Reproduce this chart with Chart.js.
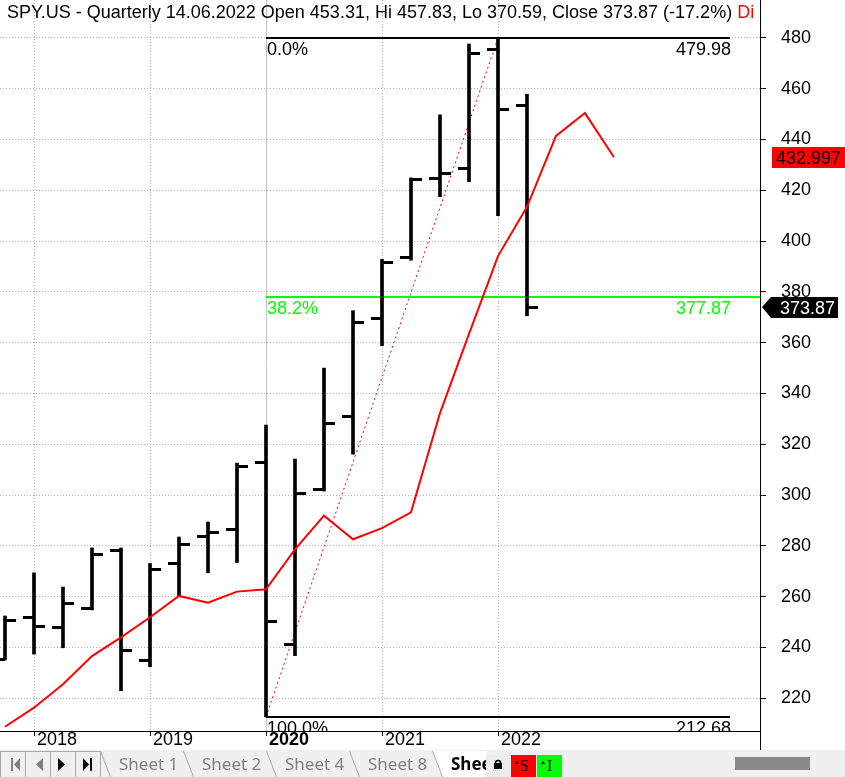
<!DOCTYPE html>
<html>
<head>
<meta charset="utf-8">
<script src="https://cdn.jsdelivr.net/npm/chart.js@4"></script>
<style>
  html, body { margin: 0; padding: 0; background: #fff; }
  canvas { display: block; }
</style>
</head>
<body>
<canvas id="chart" width="845" height="750"></canvas>
<canvas id="tabs" width="845" height="27"></canvas>
<script>
// quarterly bars, Q4 2017 .. Q2 2022
const quarters = ['Q4 2017', 'Q1 2018', 'Q2 2018', 'Q3 2018', 'Q4 2018', 'Q1 2019', 'Q2 2019', 'Q3 2019', 'Q4 2019',
  'Q1 2020', 'Q2 2020', 'Q3 2020', 'Q4 2020', 'Q1 2021', 'Q2 2021', 'Q3 2021', 'Q4 2021', 'Q1 2022', 'Q2 2022'];
const opens  = [235.4, 251.7, 247.7, 255.5, 278.0, 234.8, 272.9, 283.9, 286.4, 312.8, 241.0, 302.1, 330.9, 369.4, 393.5, 424.8, 428.4, 475.5, 453.31];
const highs  = [252.4, 269.4, 263.8, 279.2, 279.2, 273.1, 283.5, 289.4, 312.6, 327.6, 314.2, 350.0, 372.6, 392.8, 424.9, 449.7, 477.6, 479.98, 457.83];
const lows   = [235.1, 237.4, 239.9, 254.8, 223.0, 232.4, 260.4, 269.4, 273.4, 212.68, 236.8, 301.6, 316.1, 358.8, 392.5, 417.5, 423.4, 410.0, 370.59];
const closes = [250.8, 248.1, 257.2, 276.8, 238.7, 270.9, 280.4, 285.1, 311.1, 250.4, 300.8, 328.1, 367.9, 391.4, 424.1, 426.5, 473.8, 451.64, 373.87];

// displaced moving average (runs 3 quarters past the last bar)
const maValues = [208.8, 216.3, 225.5, 236.6, 244.0, 251.9, 260.3, 257.6, 262.0, 262.9, 278.6, 291.9, 282.6, 287.0,
  293.2, 332.3, 363.5, 394.1, 413.5, 441.4, 450.4, 432.997];

const yearTicks  = [1, 5, 9, 13, 17];
const yearLabels = ['2018', '2019', '2020', '2021', '2022'];
const priceTicks = [220, 240, 260, 280, 300, 320, 340, 360, 380, 400, 420, 440, 460, 480];

// fibonacci retracement: from the Q1 2020 low to the Q1 2022 high
const fibLow = 212.68, fibHigh = 479.98;
const fibFrom = 9, fibTo = 17, fibEnd = 25;
const fibLevels = [0, 0.382, 1];

const FONT = "'Liberation Sans', Arial, sans-serif";
const last = quarters.length - 1;

function tickImage(side) {
  const c = document.createElement('canvas');
  c.width = 22; c.height = 3;
  const g = c.getContext('2d');
  g.fillStyle = '#000';
  g.fillRect(side === 'left' ? 0 : 11, 0, 11, 3);
  return c;
}

const fibPlugin = {
  id: 'fib',
  beforeDatasetsDraw(chart) {
    const { ctx, chartArea: a, scales: { x, y } } = chart;
    ctx.save();
    ctx.beginPath();
    ctx.rect(a.left, a.top, a.right - a.left, a.bottom - a.top);
    ctx.clip();
    const x0 = x.getPixelForValue(fibFrom);
    const x1 = x.getPixelForValue(fibEnd);
    // trend line
    ctx.strokeStyle = '#ff0000';
    ctx.lineWidth = 1;
    ctx.setLineDash([2, 3]);
    ctx.beginPath();
    ctx.moveTo(x0, y.getPixelForValue(fibLow));
    ctx.lineTo(x.getPixelForValue(fibTo), y.getPixelForValue(fibHigh));
    ctx.stroke();
    ctx.setLineDash([]);
    ctx.font = '18px ' + FONT;
    fibLevels.forEach(l => {
      const v = fibHigh - l * (fibHigh - fibLow);
      const py = Math.round(y.getPixelForValue(v));
      const col = l === 0.382 ? '#00ff00' : '#000';
      const xe = l === 0.382 ? a.right : x1;
      ctx.strokeStyle = col;
      ctx.fillStyle = col;
      ctx.lineWidth = 2;
      ctx.beginPath();
      ctx.moveTo(x0, py);
      ctx.lineTo(xe, py);
      ctx.stroke();
      ctx.textAlign = 'left';
      ctx.fillText((l * 100).toFixed(1) + '%', x0 + 1, py + 17);
      ctx.textAlign = 'right';
      ctx.fillText(v.toFixed(2), x1 + 1, py + 17);
    });
    ctx.restore();
  },
  afterDraw(chart) {
    const { ctx, chartArea: a, scales: { x, y } } = chart;
    ctx.save();
    ctx.strokeStyle = '#000';
    ctx.lineWidth = 1;
    // axis line runs down into the date strip
    ctx.beginPath();
    ctx.moveTo(a.right + 0.5, a.bottom);
    ctx.lineTo(a.right + 0.5, 750);
    ctx.stroke();
    // year tick marks under the axis
    yearTicks.forEach(k => {
      const px = Math.round(x.getPixelForValue(k)) + 0.5;
      ctx.beginPath();
      ctx.moveTo(px, a.bottom);
      ctx.lineTo(px, a.bottom + 5);
      ctx.stroke();
    });

    ctx.font = '18px ' + FONT;
    ctx.textAlign = 'left';
    // MA value tag
    const maLast = maValues[maValues.length - 1];
    const ym = Math.round(y.getPixelForValue(maLast));
    ctx.fillStyle = '#ff0000';
    ctx.fillRect(a.right + 12, ym - 10, 73, 21);
    ctx.fillStyle = '#000';
    ctx.fillText(maLast.toFixed(3), a.right + 16, ym + 7);
    // last close tag
    const yc = Math.round(y.getPixelForValue(closes[last]));
    ctx.fillStyle = '#000';
    ctx.beginPath();
    ctx.moveTo(a.right + 2, yc);
    ctx.lineTo(a.right + 11, yc - 10);
    ctx.lineTo(a.right + 78, yc - 10);
    ctx.lineTo(a.right + 78, yc + 11);
    ctx.lineTo(a.right + 11, yc + 11);
    ctx.closePath();
    ctx.fill();
    ctx.fillStyle = '#fff';
    ctx.fillText(closes[last].toFixed(2), a.right + 20, yc + 7);

    // title
    ctx.beginPath();
    ctx.rect(0, 0, a.right - 3, 30);
    ctx.clip();
    const chg = ((closes[last] / closes[last - 1] - 1) * 100).toFixed(1);
    const title = 'SPY.US - Quarterly 14.06.2022 Open ' + opens[last].toFixed(2) + ', Hi ' + highs[last].toFixed(2) +
      ', Lo ' + lows[last].toFixed(2) + ', Close ' + closes[last].toFixed(2) + ' (' + chg + '%) ';
    ctx.fillStyle = '#000';
    ctx.fillText(title, 7, 18);
    ctx.fillStyle = '#ff0000';
    ctx.fillText('Di', 7 + ctx.measureText(title).width, 18);
    ctx.restore();
  }
};

new Chart(document.getElementById('chart'), {
  type: 'bar',
  data: {
    datasets: [
      {
        type: 'line',
        label: 'MA',
        data: maValues.map((v, i) => ({ x: i, y: v })),
        borderColor: '#ff0000',
        borderWidth: 2,
        pointRadius: 0,
        tension: 0
      },
      {
        type: 'line',
        label: 'Open',
        data: opens.map((v, i) => ({ x: i, y: v })),
        showLine: false,
        pointStyle: tickImage('left'),
        pointRadius: 3
      },
      {
        type: 'line',
        label: 'Close',
        data: closes.map((v, i) => ({ x: i, y: v })),
        showLine: false,
        pointStyle: tickImage('right'),
        pointRadius: 3
      },
      {
        type: 'bar',
        label: 'Range',
        data: quarters.map((q, i) => ({ x: i, y: [lows[i], highs[i]] })),
        backgroundColor: '#000',
        borderWidth: 0,
        barThickness: 3
      }
    ]
  },
  options: {
    responsive: false,
    animation: false,
    devicePixelRatio: 1,
    layout: { padding: 0, autoPadding: false },
    plugins: { legend: { display: false }, tooltip: { enabled: false } },
    scales: {
      x: {
        type: 'linear',
        min: -5 / 29,
        max: 755 / 29,
        offset: false,
        afterBuildTicks: s => { s.ticks = yearTicks.map(v => ({ value: v })); },
        afterFit: s => { s.height = 19; s.paddingLeft = 0; s.paddingRight = 0; },
        ticks: {
          autoSkip: false,
          maxRotation: 0,
          align: 'start',
          labelOffset: 3,
          padding: 0,
          color: '#000',
          font: ctx => ({ family: FONT, size: 18, lineHeight: 1,
            weight: ctx.tick && ctx.tick.value === 9 ? 'bold' : 'normal' }),
          callback: v => yearLabels[yearTicks.indexOf(v)]
        },
        grid: {
          offset: false,
          drawTicks: false,
          color: ctx => ctx.tick && ctx.tick.value === 9 ? '#c4c4c4' : '#b0b0b0',
          lineWidth: 1
        },
        border: {
          display: true,
          color: '#000',
          width: 1,
          dash: ctx => ctx.tick && ctx.tick.value === 9 ? [] : [1, 2]
        }
      },
      y: {
        type: 'linear',
        position: 'right',
        min: 207.13,
        max: 494.92,
        afterBuildTicks: s => { s.ticks = priceTicks.map(v => ({ value: v })); },
        afterFit: s => { s.width = 85; s.paddingTop = 0; s.paddingBottom = 0; },
        ticks: {
          color: '#000',
          padding: 15,
          font: { family: FONT, size: 18 },
          callback: v => String(v)
        },
        grid: {
          color: '#b0b0b0',
          lineWidth: 1,
          tickLength: 6,
          tickColor: '#000'
        },
        border: { display: true, color: '#000', width: 1, dash: [1, 2] }
      }
    }
  },
  plugins: [fibPlugin]
});

// sheet tab strip
const t = document.getElementById('tabs').getContext('2d');
t.fillStyle = '#f0f0f0';
t.fillRect(0, 0, 845, 27);
t.strokeStyle = '#a8a8a8';
t.lineWidth = 1;
for (let i = 0; i < 4; i++) t.strokeRect(i * 25 + 0.5, 1.5, 25, 26);
function tri(ax, ay, bx, by, cx, cy, col) {
  t.fillStyle = col;
  t.beginPath(); t.moveTo(ax, ay); t.lineTo(bx, by); t.lineTo(cx, cy); t.closePath(); t.fill();
}
t.fillStyle = '#808080'; t.fillRect(11, 8, 2, 13);
tri(20, 8, 20, 21, 14, 14.5, '#808080');
tri(43, 8, 43, 21, 36, 14.5, '#808080');
tri(58, 8, 58, 21, 65, 14.5, '#000');
tri(83, 8, 83, 21, 89, 14.5, '#000');
t.fillStyle = '#000'; t.fillRect(90, 8, 2, 13);

// active tab background
t.fillStyle = '#fff';
t.beginPath(); t.moveTo(432, 1); t.lineTo(486, 1); t.lineTo(486, 27); t.lineTo(442, 27); t.closePath(); t.fill();
t.strokeStyle = '#a8a8a8';
[100, 183, 266, 349, 432].forEach(sx => {
  t.beginPath(); t.moveTo(sx + 0.5, 1); t.lineTo(sx + 10.5, 27); t.stroke();
});
t.font = "17px 'Noto Sans', sans-serif";
t.fillStyle = '#808080';
['Sheet 1', 'Sheet 2', 'Sheet 4', 'Sheet 8'].forEach((s, i) => t.fillText(s, 119 + i * 83, 20));
t.save();
t.beginPath(); t.rect(440, 0, 46, 27); t.clip();
t.font = "bold 17px 'Noto Sans', sans-serif";
t.fillStyle = '#000';
t.fillText('Sheet 9', 451, 20);
t.restore();

// lock + state buttons
t.fillStyle = '#ececec'; t.fillRect(486, 5, 25, 22);
t.fillStyle = '#000'; t.fillRect(494, 13, 8, 6);
t.strokeStyle = '#000'; t.lineWidth = 1.5;
t.beginPath(); t.arc(498, 13, 2.6, Math.PI, 0); t.stroke();
t.fillStyle = '#ff0000'; t.fillRect(511, 5, 25, 22);
t.fillStyle = '#00ff00'; t.fillRect(537, 5, 25, 22);
tri(515, 14, 519, 14, 517, 11, '#000');
tri(541, 14, 545, 14, 543, 11, '#000');
t.fillStyle = '#000';
t.font = "16px 'Liberation Serif', serif";
t.fillText('S', 520, 21);
t.fillText('I', 547, 21);

// scrollbar thumb
t.fillStyle = '#8a8a8a';
t.fillRect(735, 7, 75, 13);
</script>
</body>
</html>
